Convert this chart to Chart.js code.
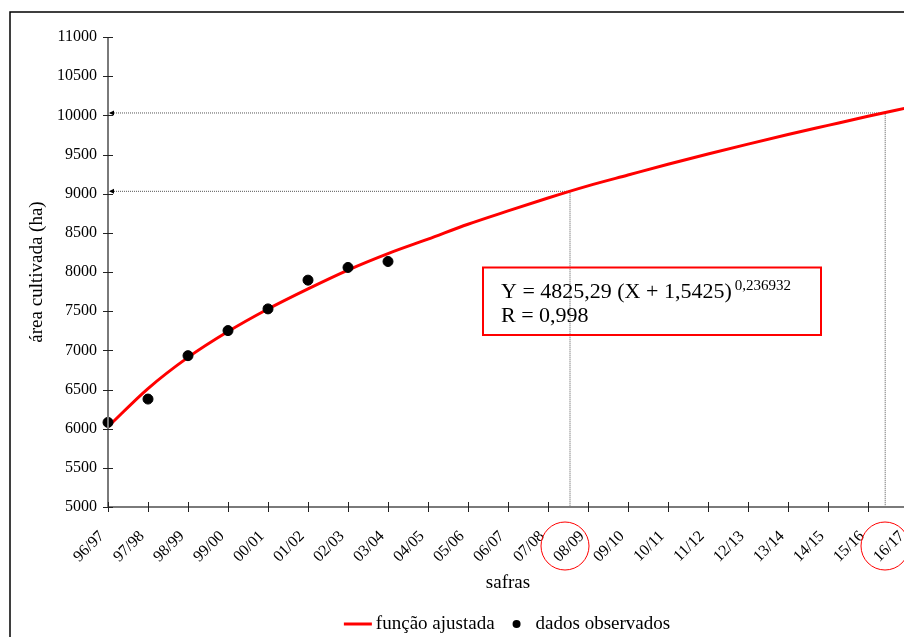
<!DOCTYPE html>
<html lang="pt">
<head>
    <meta charset="UTF-8">
    <title>Área cultivada por safra</title>
    <script src="https://cdn.jsdelivr.net/npm/chart.js"></script>
    <style>
        body { margin: 0; overflow: hidden; background: #fff; }
        #wrap { width: 920px; height: 637px; }
    </style>
</head>
<body>
    <div id="wrap"><canvas id="chart" width="920" height="637"></canvas></div>
    <script>
        const seasons = ['96/97', '97/98', '98/99', '99/00', '00/01', '01/02', '02/03', '03/04',
            '04/05', '05/06', '06/07', '07/08', '08/09', '09/10', '10/11', '11/12',
            '12/13', '13/14', '14/15', '15/16', '16/17'];
        // função ajustada, one value per safra
        const fittedArea = [6024, 6512, 6910, 7240, 7528, 7785, 8025, 8235, 8420, 8610, 8780,
            8945, 9100, 9238, 9375, 9506, 9632, 9755, 9872, 9988, 10098];
        // dados observados 96/97 .. 03/04
        const observedArea = [6080, 6378, 6932, 7252, 7529, 7896, 8058, 8134];
        // projection guides: where the curve reaches 9000 and 10000 ha
        const guideSeason = [11.55, 19.43];
        const guideArea = [9030, 10030];
        const circledSeasons = ['08/09', '16/17'];
        const yTicks = { min: 5000, max: 11000, step: 500 };

        const serif = "'Liberation Serif', 'Times New Roman', serif";

        const fittedPoints = fittedArea.map((v, i) => ({ x: i, y: v }));
        const observedPoints = observedArea.map((v, i) => ({ x: i, y: v }));
        const guideSets = guideSeason.map((s, i) => ({
            type: 'line',
            data: [{ x: 0, y: guideArea[i] }, { x: s, y: guideArea[i] }, { x: s, y: yTicks.min }],
            borderColor: '#555',
            borderWidth: 1,
            borderDash: [1, 1],
            pointRadius: 0,
            tension: 0,
            order: 3,
        }));

        const decorations = {
            id: 'decorations',
            beforeDraw(chart) {
                const ctx = chart.ctx;
                ctx.save();
                ctx.fillStyle = '#fff';
                ctx.fillRect(0, 0, chart.width, chart.height);
                ctx.strokeStyle = '#000';
                ctx.lineWidth = 1.5;
                ctx.strokeRect(10, 12, chart.width + 50, chart.height + 50);
                ctx.restore();
            },
            afterDatasetsDraw(chart) {
                const ctx = chart.ctx;
                const xs = chart.scales.x, ys = chart.scales.y;
                const area = chart.chartArea;
                ctx.save();
                // axes
                ctx.strokeStyle = '#7a7a7a';
                ctx.lineWidth = 2;
                ctx.beginPath();
                ctx.moveTo(area.left, ys.getPixelForValue(yTicks.max));
                ctx.lineTo(area.left, area.bottom);
                ctx.lineTo(chart.width, area.bottom);
                ctx.stroke();
                // tick marks crossing the axes
                ctx.strokeStyle = '#222';
                ctx.lineWidth = 1;
                ctx.beginPath();
                for (let v = yTicks.min; v <= yTicks.max; v += yTicks.step) {
                    const y = Math.round(ys.getPixelForValue(v)) + 0.5;
                    ctx.moveTo(area.left - 5, y);
                    ctx.lineTo(area.left + 5, y);
                }
                seasons.forEach((s, i) => {
                    const x = Math.round(xs.getPixelForValue(i)) + 0.5;
                    ctx.moveTo(x, area.bottom - 5);
                    ctx.lineTo(x, area.bottom + 5);
                });
                ctx.stroke();
                // arrowheads at the y axis end of the guides
                ctx.fillStyle = '#000';
                guideArea.forEach(v => {
                    const y = ys.getPixelForValue(v);
                    ctx.beginPath();
                    ctx.moveTo(area.left + 1, y);
                    ctx.lineTo(area.left + 6, y - 2.5);
                    ctx.lineTo(area.left + 6, y + 2.5);
                    ctx.closePath();
                    ctx.fill();
                });
                // red circles round the projected safras
                ctx.strokeStyle = '#ff0000';
                ctx.lineWidth = 1;
                circledSeasons.forEach(s => {
                    const x = xs.getPixelForValue(seasons.indexOf(s));
                    ctx.beginPath();
                    ctx.arc(x - 23, area.bottom + 39, 24, 0, Math.PI * 2);
                    ctx.stroke();
                });
                // equation box
                ctx.lineWidth = 2;
                ctx.strokeRect(483, 267.5, 338, 67.5);
                ctx.fillStyle = '#000';
                ctx.textBaseline = 'alphabetic';
                ctx.font = '22px ' + serif;
                const eq = 'Y = 4825,29 (X + 1,5425)';
                ctx.fillText(eq, 501, 298);
                const w = ctx.measureText(eq).width;
                ctx.font = '15px ' + serif;
                ctx.fillText('0,236932', 501 + w + 3, 290);
                ctx.font = '22px ' + serif;
                ctx.fillText('R = 0,998', 501, 322);
                // legend
                ctx.font = '19px ' + serif;
                ctx.textBaseline = 'middle';
                const t1 = 'função ajustada', t2 = 'dados observados';
                const w1 = ctx.measureText(t1).width, w2 = ctx.measureText(t2).width;
                const total = 28 + 4 + w1 + 22 + 19 + w2;
                let lx = (area.left + area.right) / 2 - total / 2 - 1;
                const ly = 624;
                ctx.strokeStyle = '#ff0000';
                ctx.lineWidth = 3;
                ctx.beginPath();
                ctx.moveTo(lx, ly);
                ctx.lineTo(lx + 28, ly);
                ctx.stroke();
                ctx.fillText(t1, lx + 32, ly);
                const dx = lx + 32 + w1 + 22;
                ctx.beginPath();
                ctx.arc(dx, ly, 4, 0, Math.PI * 2);
                ctx.fill();
                ctx.fillText(t2, dx + 19, ly);
                ctx.restore();
            }
        };

        const ctx = document.getElementById('chart').getContext('2d');
        new Chart(ctx, {
            type: 'line',
            data: {
                datasets: [
                    {
                        label: 'função ajustada',
                        data: fittedPoints,
                        borderColor: '#ff0000',
                        borderWidth: 3,
                        pointRadius: 0,
                        tension: 0.4,
                        cubicInterpolationMode: 'monotone',
                        order: 2,
                    },
                    {
                        label: 'dados observados',
                        data: observedPoints,
                        showLine: false,
                        pointRadius: 5,
                        pointBackgroundColor: '#000',
                        pointBorderColor: '#000',
                        order: 1,
                    },
                    ...guideSets,
                ],
            },
            options: {
                responsive: false,
                animation: false,
                clip: false,
                layout: { padding: { left: 20, top: 37, right: 12, bottom: 0 } },
                plugins: { legend: { display: false }, tooltip: { enabled: false } },
                scales: {
                    x: {
                        type: 'linear',
                        min: 0,
                        max: seasons.length - 1,
                        grid: { display: false, drawTicks: false },
                        border: { display: false },
                        afterFit: s => {
                            s.height = 130;
                            s.paddingLeft = 0;
                            s.paddingRight = 0;
                        },
                        ticks: {
                            stepSize: 1,
                            autoSkip: false,
                            maxRotation: 45,
                            minRotation: 45,
                            padding: 20,
                            labelOffset: -6,
                            color: '#000',
                            font: { family: serif, size: 16 },
                            callback: v => seasons[v],
                        },
                        title: {
                            display: true,
                            text: 'safras',
                            color: '#000',
                            font: { family: serif, size: 19 },
                            padding: { top: 0, bottom: 43 },
                        },
                    },
                    y: {
                        min: yTicks.min,
                        max: yTicks.max,
                        grid: { display: false, drawTicks: false },
                        border: { display: false },
                        afterFit: s => { s.width = 88; },
                        ticks: {
                            stepSize: yTicks.step,
                            padding: 11,
                            color: '#000',
                            font: { family: serif, size: 16 },
                            callback: v => String(v),
                        },
                        title: {
                            display: true,
                            text: 'área cultivada (ha)',
                            color: '#000',
                            font: { family: serif, size: 19 },
                            padding: { top: 6, bottom: 0 },
                        },
                    },
                },
            },
            plugins: [decorations],
        });
    </script>
</body>
</html>
